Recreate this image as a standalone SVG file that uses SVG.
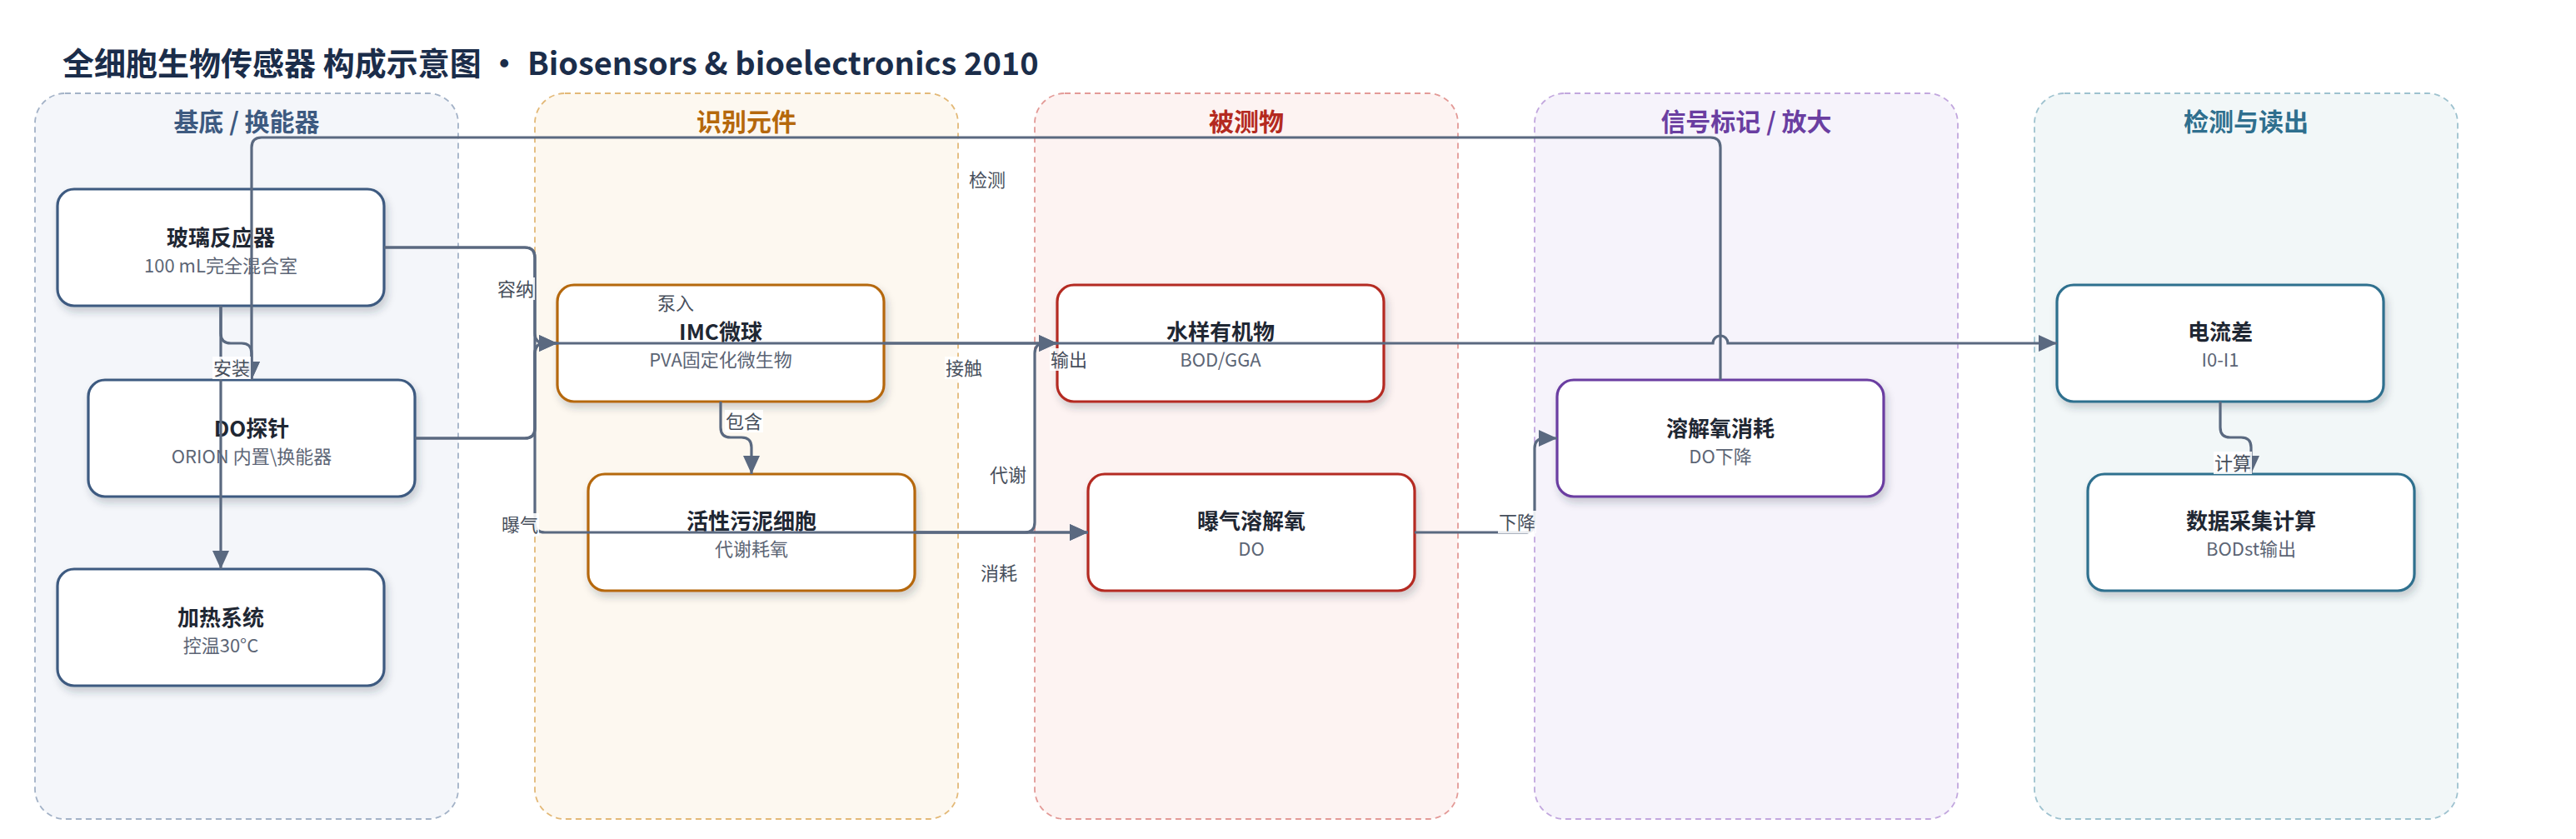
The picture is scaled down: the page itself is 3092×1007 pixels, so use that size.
<svg xmlns="http://www.w3.org/2000/svg" width="3092" height="1007" viewBox="0 0 3092 1007">
<style>
text{font-family:"Noto Sans CJK SC","Noto Sans",sans-serif}
.title{font-size:38px;font-weight:700;fill:#1b2d4a}
.lane{stroke-width:1.8;stroke-dasharray:7 5}
.lt{font-size:30px;font-weight:700;text-anchor:middle}
.box{fill:#fff;stroke-width:3.2;filter:url(#sh)}
.nt{font-size:26px;font-weight:700;fill:#1f2733;text-anchor:middle}
.ns{font-size:22px;fill:#5c6575;text-anchor:middle}
.e{fill:none;stroke:#5a6980;stroke-width:3.2;marker-end:url(#arr)}
.lb{font-size:22px;fill:#474f5c;text-anchor:middle}
.lbg{fill:#fff;fill-opacity:0.88}
</style>
<defs>
<filter id="sh" x="-10%" y="-20%" width="125%" height="150%">
<feDropShadow dx="3" dy="6" stdDeviation="5" flood-color="#2a3445" flood-opacity="0.22"/>
</filter>
<marker id="arr" markerWidth="22" markerHeight="20" refX="22" refY="10" orient="auto" markerUnits="userSpaceOnUse">
<path d="M0,0 L22,10 L0,20 z" fill="#5a6980"/>
</marker>
</defs>
<rect width="3092" height="1007" fill="#fff"/>
<text class="title" x="75" y="90">全细胞生物传感器 构成示意图 · Biosensors &amp; bioelectronics 2010</text>

<g id="lanes">
<g id="lane-substrate"><rect class="lane" x="42" y="112" width="508" height="871" rx="36" fill="#f4f6fa" stroke="#a3b2c7"/><text class="lt" x="296" y="157" fill="#3d5a80">基底 / 换能器</text></g>
<g id="lane-recognition"><rect class="lane" x="642" y="112" width="508" height="871" rx="36" fill="#fdf8f0" stroke="#e3b978"/><text class="lt" x="896" y="157" fill="#b5680c">识别元件</text></g>
<g id="lane-analyte"><rect class="lane" x="1242" y="112" width="508" height="871" rx="36" fill="#fdf3f2" stroke="#e39a97"/><text class="lt" x="1496" y="157" fill="#b42a20">被测物</text></g>
<g id="lane-signal"><rect class="lane" x="1842" y="112" width="508" height="871" rx="36" fill="#f6f3fb" stroke="#c2a7de"/><text class="lt" x="2096" y="157" fill="#6a3ea1">信号标记 / 放大</text></g>
<g id="lane-readout"><rect class="lane" x="2442" y="112" width="508" height="871" rx="36" fill="#f2f7f8" stroke="#9ec2cf"/><text class="lt" x="2696" y="157" fill="#2f6f8e">检测与读出</text></g>
</g>

<g id="nodes">
<g id="n-reactor"><rect class="box" x="69" y="227" width="392" height="140" rx="20" stroke="#3d5a80"/><text class="nt" x="265" y="295">玻璃反应器</text><text class="ns" x="265" y="327">100 mL完全混合室</text></g>
<g id="n-do-probe"><rect class="box" x="106" y="456" width="392" height="140" rx="20" stroke="#3d5a80"/><text class="nt" x="302" y="524">DO探针</text><text class="ns" x="302" y="556">ORION 内置\换能器</text></g>
<g id="n-heater"><rect class="box" x="69" y="683" width="392" height="140" rx="20" stroke="#3d5a80"/><text class="nt" x="265" y="751">加热系统</text><text class="ns" x="265" y="783">控温30°C</text></g>
<g id="n-imc"><rect class="box" x="669" y="342" width="392" height="140" rx="20" stroke="#b5680c"/><text class="nt" x="865" y="408">IMC微球</text><text class="ns" x="865" y="440">PVA固定化微生物</text></g>
<g id="n-sludge"><rect class="box" x="706" y="569" width="392" height="140" rx="20" stroke="#b5680c"/><text class="nt" x="902" y="635">活性污泥细胞</text><text class="ns" x="902" y="667">代谢耗氧</text></g>
<g id="n-organics"><rect class="box" x="1269" y="342" width="392" height="140" rx="20" stroke="#b42a20"/><text class="nt" x="1465" y="408">水样有机物</text><text class="ns" x="1465" y="440">BOD/GGA</text></g>
<g id="n-aeration-do"><rect class="box" x="1306" y="569" width="392" height="140" rx="20" stroke="#b42a20"/><text class="nt" x="1502" y="635">曝气溶解氧</text><text class="ns" x="1502" y="667">DO</text></g>
<g id="n-do-consume"><rect class="box" x="1869" y="456" width="392" height="140" rx="20" stroke="#6a3ea1"/><text class="nt" x="2065" y="524">溶解氧消耗</text><text class="ns" x="2065" y="556">DO下降</text></g>
<g id="n-current"><rect class="box" x="2469" y="342" width="392" height="140" rx="20" stroke="#2f6f8e"/><text class="nt" x="2665" y="408">电流差</text><text class="ns" x="2665" y="440">I0-I1</text></g>
<g id="n-daq"><rect class="box" x="2506" y="569" width="392" height="140" rx="20" stroke="#2f6f8e"/><text class="nt" x="2702" y="635">数据采集计算</text><text class="ns" x="2702" y="667">BODst输出</text></g>
</g>

<g id="connectors">
<path class="e" d="M461,297 H630 Q642,297 642,309 V400 Q642,412 654,412 H669"/>
<path class="e" d="M498,526 H630 Q642,526 642,514 V424 Q642,412 654,412 H669"/>
<path class="e" d="M498,526 H630 Q642,526 642,514 V424 Q642,412 654,412 H2056 A9,9 0 0 1 2074,412 H2469"/>
<path class="e" d="M461,297 H630 Q642,297 642,309 V627 Q642,639 654,639 H1306"/>
<path class="e" d="M265,367 V400 Q265,412 277,412 H290 Q302,412 302,424 V456"/>
<path class="e" d="M2065,456 V177 Q2065,165 2053,165 H314 Q302,165 302,177 V456"/>
<path class="e" d="M265,367 V683"/>
<path class="e" d="M865,482 V513 Q865,525 877,525 H890 Q902,525 902,537 V569"/>
<path class="e" d="M1061,412 H1269"/>
<path class="e" d="M1098,639 H1230 Q1242,639 1242,627 V424 Q1242,412 1254,412 H1269"/>
<path class="e" d="M1098,639 H1306"/>
<path class="e" d="M1698,639 H1830 Q1842,639 1842,627 V538 Q1842,526 1854,526 H1869"/>
<path class="e" d="M2665,482 V513 Q2665,525 2677,525 H2690 Q2702,525 2702,537 V569"/>
</g>

<g id="edge-labels">
<rect class="lbg" x="596" y="333" width="46" height="27"/><text class="lb" x="619" y="355">容纳</text>
<rect class="lbg" x="788" y="350" width="46" height="27"/><text class="lb" x="811" y="372">泵入</text>
<rect class="lbg" x="1260" y="418" width="46" height="27"/><text class="lb" x="1283" y="440">输出</text>
<rect class="lbg" x="601" y="616" width="46" height="27"/><text class="lb" x="624" y="638">曝气</text>
<rect class="lbg" x="255" y="428" width="46" height="27"/><text class="lb" x="278" y="450">安装</text>
<rect class="lbg" x="1162" y="202" width="46" height="27"/><text class="lb" x="1185" y="224">检测</text>
<rect class="lbg" x="870" y="492" width="46" height="27"/><text class="lb" x="893" y="514">包含</text>
<rect class="lbg" x="1134" y="428" width="46" height="27"/><text class="lb" x="1157" y="450">接触</text>
<rect class="lbg" x="1187" y="556" width="46" height="27"/><text class="lb" x="1210" y="578">代谢</text>
<rect class="lbg" x="1176" y="674" width="46" height="27"/><text class="lb" x="1199" y="696">消耗</text>
<rect class="lbg" x="1798" y="613" width="46" height="27"/><text class="lb" x="1821" y="635">下降</text>
<rect class="lbg" x="2657" y="542" width="46" height="27"/><text class="lb" x="2680" y="564">计算</text>
</g>
</svg>
